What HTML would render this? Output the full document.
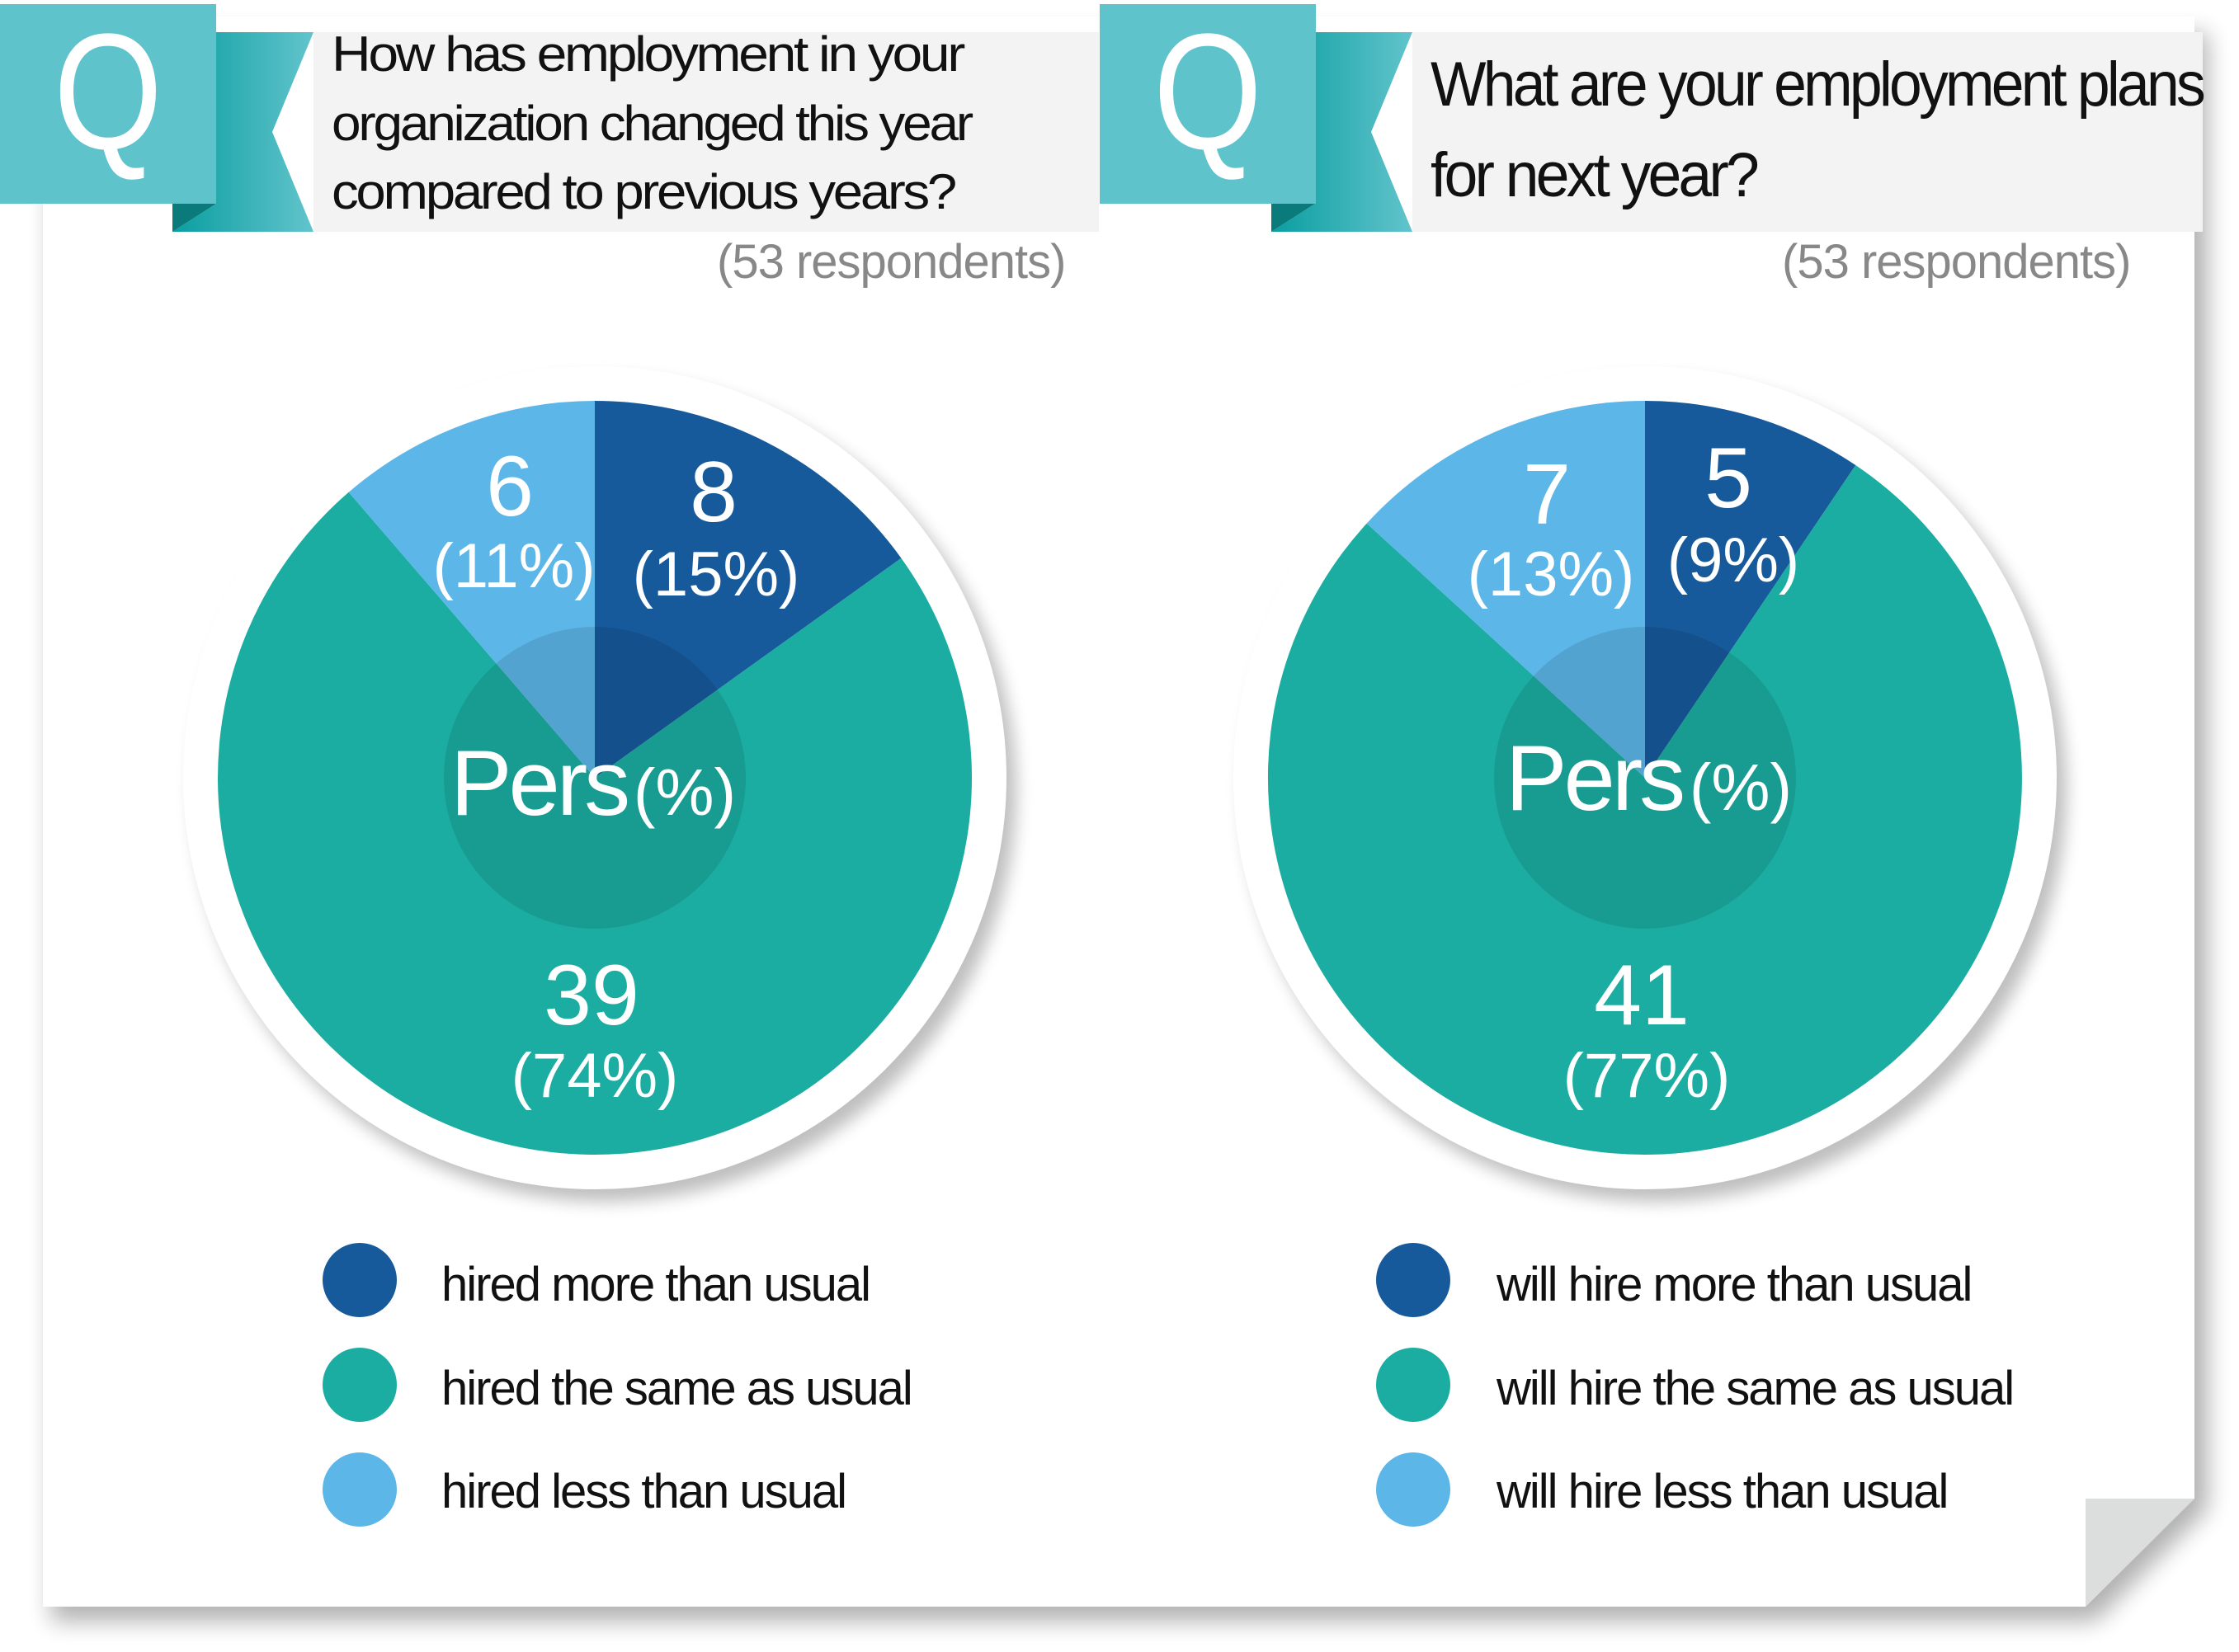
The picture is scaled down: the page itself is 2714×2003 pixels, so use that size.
<!DOCTYPE html>
<html><head><meta charset="utf-8"><style>
html,body{margin:0;padding:0;background:#fff}
svg{display:block}
text{font-family:"Liberation Sans",sans-serif}
</style></head><body>
<svg width="2714" height="2003" viewBox="0 0 2714 2003" xmlns="http://www.w3.org/2000/svg">
<defs>
<filter id="ps" x="-10%" y="-10%" width="130%" height="130%"><feGaussianBlur stdDeviation="14"/></filter>
<filter id="cs" x="-20%" y="-20%" width="140%" height="140%"><feGaussianBlur stdDeviation="10"/></filter>
<linearGradient id="rg" x1="0" x2="1" y1="0" y2="0"><stop offset="0" stop-color="#0a9ea0"/><stop offset="1" stop-color="#62c4cc"/></linearGradient>
</defs>
<polygon points="62,40 2676,40 2676,1830 2540,1966 62,1966" fill="#000" opacity="0.3" filter="url(#ps)"/>
<polygon points="52,20 2660,20 2660,1817 2528,1948 52,1948" fill="#fff"/>
<polygon points="2528,1817 2660,1817 2528,1948" fill="#dcdedd"/>

<rect x="380" y="39" width="952" height="242" fill="#f2f3f2"/>
<polygon points="262,39 380,39 330,160 380,281 209,281 262,247" fill="url(#rg)"/>
<polygon points="209,247 262,247 209,281" fill="#0a7a7a"/>
<rect x="0" y="5" width="262" height="242" fill="#5fc3cc"/>
<text x="131" y="180" font-size="200" fill="#fff" text-anchor="middle" transform="translate(131 0) scale(0.85 1) translate(-131 0)">Q</text>
<g font-size="60" fill="#111" letter-spacing="-3">
<text x="402" y="86" textLength="765" lengthAdjust="spacingAndGlyphs">How has employment in your</text>
<text x="402" y="170" textLength="775" lengthAdjust="spacingAndGlyphs">organization changed this year</text>
<text x="402" y="253" textLength="755" lengthAdjust="spacingAndGlyphs">compared to previous years?</text>
</g>
<text x="869" y="337" font-size="58" fill="#888" letter-spacing="-1">(53 respondents)</text>

<rect x="1712" y="39" width="958" height="242" fill="#f2f3f2"/>
<polygon points="1594,39 1712,39 1662,160 1712,281 1541,281 1594,247" fill="url(#rg)"/>
<polygon points="1541,247 1594,247 1541,281" fill="#0a7a7a"/>
<rect x="1333" y="5" width="262" height="242" fill="#5fc3cc"/>
<text x="1464" y="180" font-size="200" fill="#fff" text-anchor="middle" transform="translate(1464 0) scale(0.85 1) translate(-1464 0)">Q</text>
<g font-size="76" fill="#111" letter-spacing="-4">
<text x="1734" y="128" textLength="936" lengthAdjust="spacingAndGlyphs">What are your employment plans</text>
<text x="1734" y="238" textLength="395" lengthAdjust="spacingAndGlyphs">for next year?</text>
</g>
<text x="2160" y="337" font-size="58" fill="#888" letter-spacing="-1">(53 respondents)</text>

<circle cx="733" cy="958" r="499" fill="#000" opacity="0.25" filter="url(#cs)"/>
<circle cx="721" cy="943" r="499" fill="#fff"/>
<path d="M721,943 L721,486 A457,457 0 0 1 1092.4,676.7 Z" fill="#175a9c"/>
<path d="M721,943 L1092.4,676.7 A457,457 0 1 1 422.7,596.8 Z" fill="#1bada1"/>
<path d="M721,943 L422.7,596.8 A457,457 0 0 1 721,486 Z" fill="#5db6e8"/>
<circle cx="721" cy="943" r="183" fill="#000" opacity="0.1"/>
<g fill="#fff" text-anchor="middle">
<text x="618" y="625" font-size="104">6</text>
<text x="623" y="712" font-size="76">(11%)</text>
<text x="865" y="632" font-size="104">8</text>
<text x="868" y="722" font-size="76">(15%)</text>
<text x="653" y="988" font-size="112" letter-spacing="-4">Pers</text>
<text x="830" y="988" font-size="80">(%)</text>
<text x="717" y="1242" font-size="104">39</text>
<text x="721" y="1330" font-size="76">(74%)</text>
</g>

<circle cx="2006" cy="958" r="499" fill="#000" opacity="0.25" filter="url(#cs)"/>
<circle cx="1994" cy="943" r="499" fill="#fff"/>
<path d="M1994,943 L1994,486 A457,457 0 0 1 2249.3,564 Z" fill="#175a9c"/>
<path d="M1994,943 L2249.3,564 A457,457 0 1 1 1656.7,634.6 Z" fill="#1bada1"/>
<path d="M1994,943 L1656.7,634.6 A457,457 0 0 1 1994,486 Z" fill="#5db6e8"/>
<circle cx="1994" cy="943" r="183" fill="#000" opacity="0.1"/>
<g fill="#fff" text-anchor="middle">
<text x="1875" y="635" font-size="104">7</text>
<text x="1880" y="722" font-size="76">(13%)</text>
<text x="2095" y="615" font-size="104">5</text>
<text x="2101" y="705" font-size="76">(9%)</text>
<text x="1932" y="982" font-size="112" letter-spacing="-4">Pers</text>
<text x="2110" y="982" font-size="80">(%)</text>
<text x="1990" y="1242" font-size="104">41</text>
<text x="1996" y="1330" font-size="76">(77%)</text>
</g>

<circle cx="436" cy="1552" r="45" fill="#175a9c"/>
<circle cx="436" cy="1679" r="45" fill="#1bada1"/>
<circle cx="436" cy="1806" r="45" fill="#5db6e8"/>
<g font-size="58" fill="#111" letter-spacing="-2">
<text x="535" y="1577">hired more than usual</text>
<text x="535" y="1703">hired the same as usual</text>
<text x="535" y="1828">hired less than usual</text>
</g>
<circle cx="1713" cy="1552" r="45" fill="#175a9c"/>
<circle cx="1713" cy="1679" r="45" fill="#1bada1"/>
<circle cx="1713" cy="1806" r="45" fill="#5db6e8"/>
<g font-size="58" fill="#111" letter-spacing="-2">
<text x="1814" y="1577">will hire more than usual</text>
<text x="1814" y="1703">will hire the same as usual</text>
<text x="1814" y="1828">will hire less than usual</text>
</g>
</svg>
</body></html>
